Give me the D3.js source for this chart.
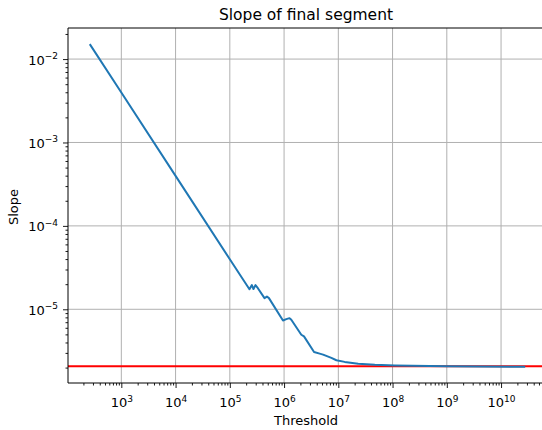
<!DOCTYPE html>
<html>
<head>
<meta charset="utf-8">
<script src="https://cdn.jsdelivr.net/npm/d3@7"></script>
<style>
  body { margin: 0; background: #fff; }
  svg { display: block; overflow: hidden; }
  text { font-family: "DejaVu Sans", sans-serif; fill: #000; }
</style>
</head>
<body>
<script>
// data
const thresholds = [262, 1e3, 1e4, 1e5, 2.30e5, 2.55e5, 2.73e5, 2.97e5, 3.29e5, 4.36e5, 4.83e5, 5.26e5,
  9.55e5, 1.10e6, 1.26e6, 1.36e6, 2.08e6, 2.33e6, 3.57e6, 4.53e6, 5.24e6, 7.45e6, 9.22e6,
  1.31e7, 2.32e7, 4.71e7, 1.10e8, 1e9, 2.79e10];
const slopes = [1.51e-2, 3.98e-3, 3.98e-4, 3.98e-5, 1.74e-5, 1.95e-5, 1.75e-5, 1.95e-5, 1.79e-5, 1.36e-5, 1.42e-5, 1.36e-5,
  7.33e-6, 7.62e-6, 7.83e-6, 7.48e-6, 4.95e-6, 4.73e-6, 3.08e-6, 2.94e-6, 2.86e-6, 2.61e-6, 2.45e-6,
  2.34e-6, 2.22e-6, 2.16e-6, 2.12e-6, 2.07e-6, 2.04e-6];
const targetSlope = 2.08e-6;
const xTickExps = [3, 4, 5, 6, 7, 8, 9, 10];
const yTickExps = [-2, -3, -4, -5];

const W = 542, H = 430;
const margin = { top: 28, left: 68 };
const width = 479, height = 355;

const data = thresholds.map((t, i) => ({ t, s: slopes[i] }));

// matplotlib-like 5% margins in log space
function padLog(ext) {
  const a = Math.log10(ext[0]), b = Math.log10(ext[1]);
  const p = (b - a) * 0.05;
  return [Math.pow(10, a - p), Math.pow(10, b + p)];
}

const x = d3.scaleLog().domain(padLog(d3.extent(thresholds))).range([0, width]);
const y = d3.scaleLog().domain(padLog(d3.extent(slopes))).range([height, 0]);

const svg = d3.select("body").append("svg")
  .attr("width", W)
  .attr("height", H);

const g = svg.append("g")
  .attr("transform", `translate(${margin.left},${margin.top})`);

// minor tick values
function minors(scale) {
  const [lo, hi] = scale.domain();
  const out = [];
  for (let e = Math.floor(Math.log10(lo)); e <= Math.ceil(Math.log10(hi)); e++) {
    for (let k = 2; k <= 9; k++) {
      const v = k * Math.pow(10, e);
      if (v >= lo && v <= hi) out.push(v);
    }
  }
  return out;
}

const xMajors = xTickExps.map(e => Math.pow(10, e));
const yMajors = yTickExps.map(e => Math.pow(10, e));

// grid
g.append("g").selectAll("line")
  .data(xMajors).enter().append("line")
  .attr("x1", d => x(d)).attr("x2", d => x(d))
  .attr("y1", 0).attr("y2", height)
  .attr("stroke", "#b0b0b0").attr("stroke-width", 1);
g.append("g").selectAll("line")
  .data(yMajors).enter().append("line")
  .attr("x1", 0).attr("x2", width)
  .attr("y1", d => y(d)).attr("y2", d => y(d))
  .attr("stroke", "#b0b0b0").attr("stroke-width", 1);

// red reference line
g.append("line")
  .attr("x1", 0).attr("x2", width)
  .attr("y1", y(targetSlope)).attr("y2", y(targetSlope))
  .attr("stroke", "#ff0000").attr("stroke-width", 2);

// slope curve
const line = d3.line().x(d => x(d.t)).y(d => y(d.s));
g.append("path")
  .datum(data)
  .attr("d", line)
  .attr("fill", "none")
  .attr("stroke", "#1f77b4")
  .attr("stroke-width", 2)
  .attr("stroke-linejoin", "round");

// axes
const xAxis = g.append("g").attr("transform", `translate(0,${height})`)
  .call(d3.axisBottom(x).tickValues(xMajors).tickSize(5).tickSizeOuter(0).tickFormat(() => ""));
const xMinor = g.append("g").attr("transform", `translate(0,${height})`)
  .call(d3.axisBottom(x).tickValues(minors(x)).tickSize(2.5).tickSizeOuter(0).tickFormat(() => ""));
const yAxis = g.append("g")
  .call(d3.axisLeft(y).tickValues(yMajors).tickSize(5).tickSizeOuter(0).tickFormat(() => ""));
const yMinor = g.append("g")
  .call(d3.axisLeft(y).tickValues(minors(y)).tickSize(2.5).tickSizeOuter(0).tickFormat(() => ""));

[xAxis, xMinor, yAxis, yMinor].forEach(a => {
  a.select(".domain").remove();
  a.selectAll(".tick line").attr("stroke", "#000").attr("stroke-width", 0.9);
});

// tick labels 10^n
xAxis.selectAll(".tick text").each(function(d) {
  const t = d3.select(this).attr("dy", null).attr("y", 24)
    .attr("font-size", 13).attr("text-anchor", "middle");
  t.append("tspan").attr("font-size", 13).text("10");
  t.append("tspan").attr("dy", -5.5).attr("font-size", 9)
    .text(String(Math.round(Math.log10(d))));
});
yAxis.selectAll(".tick text").each(function(d) {
  const t = d3.select(this).attr("dy", null).attr("y", 5).attr("x", -10)
    .attr("font-size", 13).attr("text-anchor", "end");
  t.append("tspan").attr("font-size", 13).text("10");
  t.append("tspan").attr("dy", -5.5).attr("font-size", 9)
    .text("\u2212" + Math.abs(Math.round(Math.log10(d))));
});

// spines
const spine = g.append("g").attr("stroke", "#000").attr("stroke-width", 1);
spine.append("line").attr("x1", 0).attr("x2", 0).attr("y1", 0).attr("y2", height);
spine.append("line").attr("x1", 0).attr("x2", width).attr("y1", 0).attr("y2", 0);
spine.append("line").attr("x1", 0).attr("x2", width).attr("y1", height).attr("y2", height);
spine.append("line").attr("x1", width).attr("x2", width).attr("y1", 0).attr("y2", height);

// labels
svg.append("text")
  .attr("x", 306).attr("y", 20)
  .attr("text-anchor", "middle")
  .style("font-size", "15.5px")
  .text("Slope of final segment");

svg.append("text")
  .attr("x", 306).attr("y", 425)
  .attr("text-anchor", "middle")
  .style("font-size", "13px")
  .text("Threshold");

svg.append("text")
  .attr("transform", "translate(17.5,207) rotate(-90)")
  .attr("text-anchor", "middle")
  .style("font-size", "13px")
  .text("Slope");
</script>
</body>
</html>
